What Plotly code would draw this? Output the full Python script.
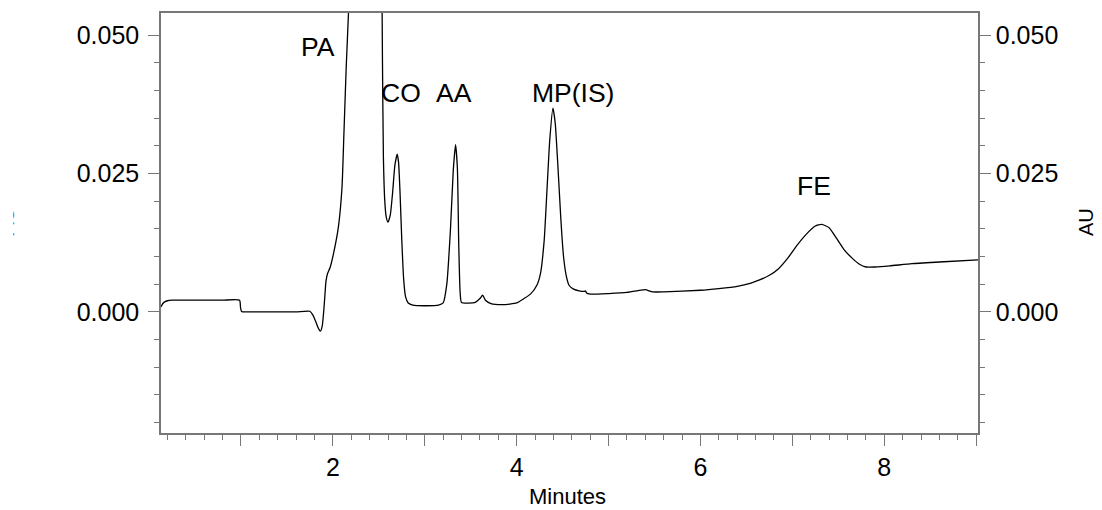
import plotly.graph_objects as go

# Retention time (minutes)
time_min = [0.13, 0.15, 0.17, 0.20, 0.25, 0.40, 0.60, 0.80, 0.985, 0.995, 1.005, 1.02, 1.3, 1.6,
            1.75, 1.78, 1.81, 1.84, 1.865, 1.885, 1.905, 1.925, 1.94, 1.97, 2.007, 2.06, 2.10, 2.12,
            2.145, 2.17, 2.22, 2.30, 2.40, 2.48, 2.525, 2.54, 2.55, 2.565, 2.58, 2.60, 2.625, 2.65,
            2.675, 2.70, 2.715, 2.73, 2.75, 2.77, 2.79, 2.82, 2.87, 3.0, 3.15, 3.20, 3.24, 3.28,
            3.31, 3.335, 3.355, 3.37, 3.385, 3.40, 3.55, 3.60, 3.63, 3.66, 3.72, 3.85, 4.00, 4.08,
            4.15, 4.22, 4.26, 4.30, 4.33, 4.36, 4.395, 4.42, 4.45, 4.48, 4.51, 4.54, 4.57, 4.62,
            4.68, 4.74, 4.75, 4.76, 4.80, 5.0, 5.2, 5.35, 5.40, 5.48, 5.6, 6.0, 6.2, 6.4, 6.55,
            6.65, 6.75, 6.85, 6.95, 7.05, 7.15, 7.25, 7.32, 7.40, 7.48, 7.56, 7.65, 7.73, 7.80,
            7.90, 8.06, 8.3, 8.6, 9.02]

# Absorbance (AU)
absorbance = [0.0009, 0.0015, 0.0018, 0.0020, 0.0021, 0.0021, 0.0021, 0.0021, 0.0021, 0.0008,
              0.0001, 0.0, 0.0, 0.0, 0.0001, -0.0005, -0.0016, -0.0029, -0.0035, -0.0025, 0.001,
              0.0055, 0.0068, 0.008, 0.0105, 0.0153, 0.0226, 0.032, 0.044, 0.054, 0.075, 0.10,
              0.11, 0.10, 0.075, 0.045, 0.028, 0.020, 0.0172, 0.0162, 0.0175, 0.0215, 0.0265,
              0.0285, 0.027, 0.022, 0.013, 0.006, 0.0028, 0.0016, 0.0012, 0.0011, 0.0012, 0.0016,
              0.005, 0.015, 0.0255, 0.0302, 0.026, 0.012, 0.0035, 0.0017, 0.0017, 0.0024, 0.003,
              0.0021, 0.0015, 0.0013, 0.0016, 0.0024, 0.0032, 0.0048, 0.007, 0.013, 0.022, 0.031,
              0.0368, 0.034, 0.026, 0.017, 0.010, 0.0065, 0.0048, 0.0041, 0.0038, 0.0037, 0.0038,
              0.0034, 0.0032, 0.0033, 0.0035, 0.0039, 0.0040, 0.0036, 0.0036, 0.0039, 0.0042,
              0.0046, 0.0052, 0.0058, 0.0066, 0.0078, 0.0097, 0.0120, 0.0140, 0.0155, 0.0158,
              0.0152, 0.0133, 0.0113, 0.0097, 0.0086, 0.0081, 0.0081, 0.0083, 0.0087, 0.0090,
              0.0094]

# Peak labels
peak_names = ["PA", "CO", "AA", "MP(IS)", "FE"]
peak_x = [1.84, 2.742, 3.318, 4.609, 7.232]
peak_y = [0.0478, 0.0395, 0.0395, 0.0396, 0.0227]

x_tickvals = [1, 2, 3, 4, 5, 6, 7, 8, 9]
x_ticktext = ["", "2", "", "4", "", "6", "", "8", ""]
y_tickvals = [0.0, 0.025, 0.05]
y_ticktext = ["0.000", "0.025", "0.050"]

FONT = "Liberation Sans, Arial, sans-serif"
AXIS_COL = "#777777"
X_RANGE = [0.13, 9.02]
Y_RANGE = [-0.0219, 0.054]

# the page body margin is removed (post_script below), so the figure fills the window
W, H = 1102, 510
L, R, T, B = 161, 124, 13, 77
pw, ph = W - L - R, H - T - B

def paper_x(screen_px):
    return (screen_px - L) / pw

def paper_y(screen_py):
    return (H - B - screen_py) / ph

fig = go.Figure()
fig.add_trace(go.Scatter(x=time_min, y=absorbance, mode="lines",
                         line=dict(color="black", width=1.3, shape="spline", smoothing=0.5),
                         showlegend=False, hoverinfo="skip"))
fig.add_trace(go.Scatter(x=time_min, y=absorbance, mode="lines", yaxis="y2",
                         line=dict(color="rgba(0,0,0,0)", width=0), showlegend=False,
                         hoverinfo="skip"))

for name, px, py in zip(peak_names, peak_x, peak_y):
    fig.add_annotation(x=px, y=py, text=name, showarrow=False,
                       font=dict(family=FONT, size=26.5, color="black"),
                       xanchor="center", yanchor="middle")

# Axis titles
fig.add_annotation(xref="paper", yref="paper", x=paper_x(567), y=paper_y(497),
                   text="Minutes", showarrow=False, xanchor="center", yanchor="middle",
                   font=dict(family=FONT, size=22, color="black"))
fig.add_annotation(xref="paper", yref="paper", x=paper_x(1086), y=paper_y(222),
                   text="AU", textangle=-90, showarrow=False, xanchor="center", yanchor="middle",
                   font=dict(family=FONT, size=20, color="black"))
# Left axis title (clipped at the image edge in the reference)
fig.add_annotation(xref="paper", yref="paper", x=paper_x(6.5), y=paper_y(222),
                   text="AU", textangle=-90, showarrow=False, xanchor="center", yanchor="middle",
                   font=dict(family=FONT, size=20, color="black"))
fig.add_annotation(xref="paper", yref="paper", x=paper_x(6.5), y=paper_y(222),
                   text=" ", showarrow=False, bgcolor="white", width=13, height=50,
                   xanchor="center", yanchor="middle",
                   font=dict(family=FONT, size=10, color="white"), borderpad=0)

tickfont = dict(family=FONT, size=25, color="black")

fig.update_layout(
    width=W, height=H,
    margin=dict(l=L, r=R, t=T, b=B, pad=0),
    paper_bgcolor="white", plot_bgcolor="white",
    showlegend=False,
    xaxis=dict(range=X_RANGE, tickmode="array", tickvals=x_tickvals, ticktext=x_ticktext,
               ticks="outside", ticklen=11, tickwidth=1, tickcolor=AXIS_COL,
               showline=True, linecolor=AXIS_COL, linewidth=1.5, mirror=True,
               showgrid=False, zeroline=False, tickfont=tickfont,
               minor=dict(dtick=0.2, tick0=0, ticks="outside", ticklen=5,
                          tickcolor=AXIS_COL, showgrid=False)),
    yaxis=dict(range=Y_RANGE, tickmode="array", tickvals=y_tickvals, ticktext=y_ticktext,
               ticks="outside", ticklen=11, tickwidth=1, tickcolor=AXIS_COL,
               showline=True, linecolor=AXIS_COL, linewidth=1.5, ticklabelstandoff=4,
               showgrid=False, zeroline=False, tickfont=tickfont,
               minor=dict(dtick=0.005, tick0=0, ticks="outside", ticklen=5,
                          tickcolor=AXIS_COL, showgrid=False)),
    yaxis2=dict(range=Y_RANGE, overlaying="y", side="right", tickmode="array",
                tickvals=y_tickvals, ticktext=y_ticktext,
                ticks="outside", ticklen=11, tickwidth=1, tickcolor=AXIS_COL,
                showline=True, linecolor=AXIS_COL, linewidth=1.5, ticklabelstandoff=0,
                showgrid=False, zeroline=False, tickfont=tickfont,
                minor=dict(dtick=0.005, tick0=0, ticks="outside", ticklen=5,
                           tickcolor=AXIS_COL, showgrid=False)),
)

fig.write_html("out.html",
               config={"displayModeBar": False},
               post_script="document.body.style.margin='0';"
                           "document.documentElement.style.overflow='hidden';")
